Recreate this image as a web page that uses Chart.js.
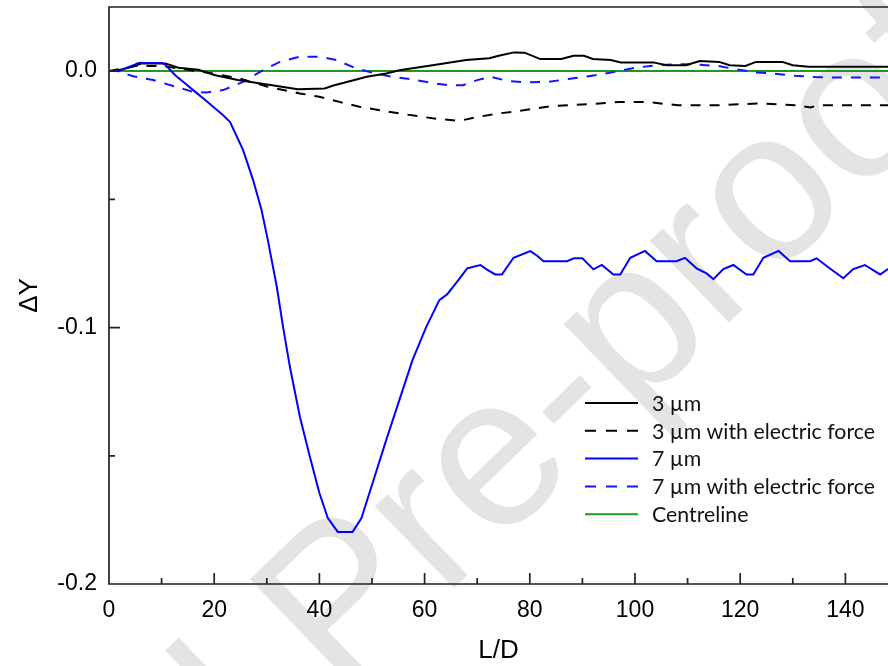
<!DOCTYPE html>
<html>
<head>
<meta charset="utf-8">
<script src="https://cdn.jsdelivr.net/npm/chart.js@4.4.1/dist/chart.umd.min.js"></script>
<style>
html,body{margin:0;padding:0;background:#fff;overflow:hidden;}
#wrap{width:888px;height:666px;position:relative;}
</style>
</head>
<body>
<div id="wrap"><canvas id="c" width="888" height="666"></canvas></div>
<script>
// ---------------- data ----------------
const seriesLabels = ['3 \u00b5m', '3 \u00b5m with electric force', '7 \u00b5m', '7 \u00b5m with electric force', 'Centreline'];

const L_3um  = [0, 1.2, 4, 6.3, 10.7, 13.2, 17, 20.2, 24.5, 31, 35.9, 41, 42.5, 49, 52.7, 55.2, 61.5, 67.9, 72.3, 74.1, 77, 79, 82, 86, 88.3, 90.3, 92, 95.4, 97.3, 103.5, 106, 109.7, 112.3, 116, 118, 121, 123, 128, 130, 133, 150];
const dY_3um = [0, 0, 0.0015, 0.003, 0.003, 0.0013, 0.0005, -0.0016, -0.0035, -0.0055, -0.0071, -0.0068, -0.0057, -0.0022, -0.0009, 0.0003, 0.0023, 0.0043, 0.005, 0.006, 0.0073, 0.0072, 0.0047, 0.0047, 0.006, 0.006, 0.0047, 0.0043, 0.0034, 0.0034, 0.0023, 0.0023, 0.0039, 0.0036, 0.0023, 0.002, 0.0036, 0.0036, 0.0023, 0.0017, 0.0017];

const L_3umEF  = [0, 5, 10, 15, 20, 25, 30, 36.3, 40, 43.8, 47.6, 55.2, 61.5, 66.6, 70.3, 74.1, 76.6, 84.2, 91.2, 96.9, 102, 108.2, 115.8, 124, 130.4, 133.4, 134.7, 150];
const dY_3umEF = [0, 0.002, 0.002, 0.0005, -0.001, -0.003, -0.006, -0.0087, -0.010, -0.012, -0.0139, -0.0165, -0.0184, -0.0194, -0.0178, -0.0165, -0.0159, -0.0136, -0.0129, -0.012, -0.012, -0.0133, -0.0133, -0.0126, -0.0133, -0.0142, -0.0133, -0.0133];

const L_7um  = [0, 1.8, 5, 5.6, 10.1, 10.7, 12.6, 14.5, 16.4, 18.3, 20.2, 21.7, 23, 25.5, 27.4, 29, 30.2, 31.9, 33.1, 34.4, 36.3, 38.2, 40, 41.6, 43.5, 46.3, 48, 50.1, 52.7, 55.2, 57.7, 60.3, 62.8, 64.3, 66.2, 68.1, 70.6, 71.8, 73.4, 74.7, 76.9, 80.1, 81.4, 82.6, 87.1, 88.4, 90, 92.1, 93.7, 95.9, 97.2, 99.1, 101.9, 104.1, 107.9, 109.5, 111.7, 113.6, 114.9, 116.8, 118.7, 121.2, 122.5, 124.4, 127.3, 129.5, 133.3, 134.5, 137, 139.6, 141.5, 143.7, 146.6, 148, 150];
const dY_7um = [0, 0, 0.0026, 0.0032, 0.0032, 0.0025, -0.0016, -0.0048, -0.0081, -0.0113, -0.0146, -0.0172, -0.0198, -0.0308, -0.0425, -0.0542, -0.0659, -0.0841, -0.0998, -0.1154, -0.1349, -0.1505, -0.1645, -0.1743, -0.1797, -0.1797, -0.1743, -0.1607, -0.1439, -0.1283, -0.1127, -0.0998, -0.0893, -0.0870, -0.0821, -0.0769, -0.0756, -0.0773, -0.0793, -0.0793, -0.0728, -0.0702, -0.072, -0.0741, -0.0741, -0.073, -0.073, -0.0773, -0.0756, -0.0793, -0.0793, -0.0728, -0.0701, -0.0741, -0.0741, -0.0728, -0.0769, -0.0789, -0.0811, -0.0772, -0.0756, -0.0793, -0.0793, -0.0728, -0.0701, -0.0741, -0.0741, -0.073, -0.0769, -0.0808, -0.0772, -0.0756, -0.0793, -0.0773, -0.076];

const L_7umEF  = [0, 1.6, 4.6, 8.4, 12.2, 16, 18.6, 21.7, 25.5, 29.3, 32.5, 36.3, 40, 43.3, 47, 50.1, 53.3, 58.4, 61, 64.5, 67.3, 70, 72.5, 75.9, 79.7, 83.5, 87.3, 92.4, 96.2, 100, 103.8, 107.6, 111, 115.8, 119, 122.8, 126.6, 130.4, 134.2, 138, 150];
const dY_7umEF = [0, 0, -0.002, -0.0035, -0.0058, -0.0081, -0.0083, -0.0074, -0.0042, 0.0004, 0.0036, 0.0056, 0.0056, 0.0043, 0.001, -0.0006, -0.002, -0.0035, -0.0045, -0.0055, -0.0055, -0.0035, -0.0022, -0.0039, -0.0044, -0.0042, -0.0031, -0.0016, -0.0003, 0.0013, 0.0022, 0.0027, 0.0027, 0.002, 0.0008, -0.0005, -0.001, -0.0018, -0.0023, -0.0025, -0.0025];

const L_centre  = [0, 150];
const dY_centre = [0, 0];

const xTickLabels = ['0', '20', '40', '60', '80', '100', '120', '140'];
const yTickLabels = ['0.0', '-0.1', '-0.2'];

// ---------------- styling ----------------
const FONT = '"Liberation Sans", Arial, sans-serif';
const AXIS_COLOR = '#222222';
const toPts = (xs, ys) => xs.map((x, i) => ({x: x, y: ys[i]}));
const base = {showLine: true, pointRadius: 0, pointHoverRadius: 0, fill: false, tension: 0, borderWidth: 2, borderCapStyle: 'butt', borderJoinStyle: 'miter'};

const datasets = [
  Object.assign({}, base, {label: seriesLabels[0], data: toPts(L_3um, dY_3um), borderColor: '#000000', order: 1}),
  Object.assign({}, base, {label: seriesLabels[1], data: toPts(L_3umEF, dY_3umEF), borderColor: '#000000', borderDash: [10, 9], order: 3}),
  Object.assign({}, base, {label: seriesLabels[2], data: toPts(L_7um, dY_7um), borderColor: '#0000ff', order: 0}),
  Object.assign({}, base, {label: seriesLabels[3], data: toPts(L_7umEF, dY_7umEF), borderColor: '#1414ff', borderDash: [10, 9], order: 2}),
  Object.assign({}, base, {label: seriesLabels[4], data: toPts(L_centre, dY_centre), borderColor: '#1f9a1f', order: 4})
];

const isMulti = (v, step) => Math.abs(v / step - Math.round(v / step)) < 1e-6;

// inside ticks + frame
const frameTicks = {
  id: 'frameTicks',
  afterDraw(chart) {
    const {ctx, chartArea: a, scales: {x, y}} = chart;
    ctx.save();
    ctx.strokeStyle = AXIS_COLOR;
    ctx.lineWidth = 1.7;
    ctx.setLineDash([]);
    ctx.beginPath();
    x.ticks.forEach(t => {
      if (t.value <= x.min) return;
      const px = x.getPixelForValue(t.value);
      const len = isMulti(t.value, 20) ? 11 : 6;
      ctx.moveTo(px, a.bottom); ctx.lineTo(px, a.bottom - len);
    });
    y.ticks.forEach(t => {
      if (t.value <= y.min || t.value >= y.max) return;
      const py = y.getPixelForValue(t.value);
      const len = isMulti(t.value, 0.1) ? 11 : 6;
      ctx.moveTo(a.left, py); ctx.lineTo(a.left + len, py);
    });
    ctx.stroke();
    ctx.beginPath();
    ctx.moveTo(a.right + 2, a.top);
    ctx.lineTo(a.left, a.top);
    ctx.lineTo(a.left, a.bottom);
    ctx.lineTo(a.right + 2, a.bottom);
    ctx.stroke();
    ctx.restore();
  }
};

// legend drawn inside the plot
const LEG = {x: 585, y0: 403, dy: 27.8, lineLen: 53, gap: 14, textWidth: 223, family: 'Lato, "Open Sans", sans-serif'};
const insideLegend = {
  id: 'insideLegend',
  afterDraw(chart) {
    const {ctx} = chart;
    ctx.save();
    let size = 18;
    ctx.font = size + 'px ' + LEG.family;
    const longest = Math.max.apply(null, chart.data.datasets.map(d => ctx.measureText(d.label).width));
    size = size * LEG.textWidth / longest;
    ctx.font = size + 'px ' + LEG.family;
    chart.data.datasets.forEach((d, i) => {
      const yy = LEG.y0 + i * LEG.dy;
      ctx.strokeStyle = d.borderColor;
      ctx.lineWidth = d.borderWidth;
      ctx.setLineDash(d.borderDash ? [11, 10] : []);
      ctx.beginPath();
      ctx.moveTo(LEG.x, yy); ctx.lineTo(LEG.x + LEG.lineLen, yy);
      ctx.stroke();
      ctx.setLineDash([]);
      ctx.fillStyle = '#111';
      ctx.textAlign = 'left';
      ctx.textBaseline = 'middle';
      ctx.fillText(d.label, LEG.x + LEG.lineLen + LEG.gap, yy + 1);
    });
    ctx.restore();
  }
};

// faint diagonal watermark of the source page
const WM = {before: 'Journal ', after: 'Pre-proof', size: 215, angle: -44, ax: 340, ay: 698, color: '#e4e4e4'};
const watermark = {
  id: 'watermark',
  beforeDraw(chart) {
    const {ctx} = chart;
    ctx.save();
    ctx.fillStyle = '#ffffff';
    ctx.fillRect(0, 0, chart.width, chart.height);
    ctx.translate(WM.ax, WM.ay);
    ctx.rotate(WM.angle * Math.PI / 180);
    ctx.font = WM.size + 'px ' + FONT;
    ctx.fillStyle = WM.color;
    ctx.textBaseline = 'alphabetic';
    ctx.textAlign = 'left';
    ctx.fillText(WM.after, 0, 0);
    ctx.textAlign = 'right';
    ctx.fillText(WM.before, 0, 0);
    ctx.restore();
  }
};

new Chart(document.getElementById('c'), {
  type: 'scatter',
  data: {datasets: datasets},
  options: {
    responsive: false,
    devicePixelRatio: 1,
    animation: false,
    events: [],
    layout: {padding: {top: 7, right: 0, bottom: 0, left: 0}},
    plugins: {legend: {display: false}, tooltip: {enabled: false}, title: {display: false}},
    scales: {
      x: {
        type: 'linear', min: 0, max: 148.1,
        ticks: {
          stepSize: 10, includeBounds: false, autoSkip: false, maxRotation: 0, minRotation: 0,
          color: '#000', font: {family: FONT, size: 23}, padding: 13,
          callback: v => isMulti(v, 20) ? xTickLabels[Math.round(v / 20)] : ''
        },
        grid: {display: false, drawTicks: false},
        border: {display: false},
        title: {display: true, text: 'L/D', color: '#000', font: {family: FONT, size: 26}, padding: {top: 0, bottom: 0}},
        afterFit: s => { s.height = 82; s.paddingLeft = 0; s.paddingRight = 0; }
      },
      y: {
        type: 'linear', min: -0.2, max: 0.025,
        ticks: {
          stepSize: 0.05, includeBounds: false, autoSkip: false,
          color: '#000', font: {family: FONT, size: 23}, padding: 12,
          callback: v => isMulti(v, 0.1) ? yTickLabels[Math.round(-v / 0.1)] : ''
        },
        grid: {display: false, drawTicks: false},
        border: {display: false},
        title: {display: true, text: '\u0394Y', color: '#000', font: {family: FONT, size: 26}, padding: {top: 14, bottom: 0}},
        afterFit: s => { s.width = 109; s.paddingTop = 0; s.paddingBottom = 0; }
      }
    }
  },
  plugins: [watermark, frameTicks, insideLegend]
});
</script>
</body>
</html>
